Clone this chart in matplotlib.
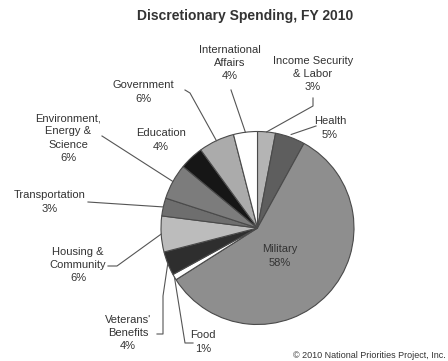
import numpy as np
import matplotlib
matplotlib.use("Agg")
import matplotlib.pyplot as plt
from matplotlib.lines import Line2D

plt.rcParams['font.family'] = ['Liberation Sans', 'DejaVu Sans']

# data, clockwise from 12 o'clock
labels = ["Income Security\n& Labor", "Health", "Military", "Food", "Veterans'\nBenefits",
          "Housing &\nCommunity", "Transportation", "Environment,\nEnergy &\nScience",
          "Education", "Government", "International\nAffairs"]
values = [3, 5, 58, 1, 4, 6, 3, 6, 4, 6, 4]
colors = ["#b4b4b4", "#5e5e5e", "#8e8e8e", "#ffffff", "#2e2e2e", "#bcbcbc",
          "#6e6e6e", "#7c7c7c", "#161616", "#ababab", "#ffffff"]

# label placement in pixels from top-left: text centre, leader points near the text
label_pos = {
    0: ((313, 74), [(313, 98), (313, 106)]),
    1: ((330, 128), [(316, 126)]),
    2: ((280, 256), None),
    3: ((203, 342), [(193, 343), (185, 343)]),
    4: ((128, 333), [(157, 334), (163, 334), (163, 296)]),
    5: ((78, 265), [(108, 266), (117, 266)]),
    6: ((50, 202), [(88, 202)]),
    7: ((68, 138), [(102, 136)]),
    8: ((161, 140), None),
    9: ((143, 92), [(185, 90), (190, 93)]),
    10: ((230, 63), [(231, 90)]),
}

W, H = 448, 361
fig = plt.figure(figsize=(W / 100, H / 100), dpi=100)
fig.patch.set_facecolor("white")

cx, cy, r = 257.5, 228, 96.5
half = r * 1.25
ax = fig.add_axes([(cx - half) / W, (H - cy - half) / H, 2 * half / W, 2 * half / H])
wedges, _ = ax.pie(values, colors=colors, startangle=90, counterclock=False,
                   wedgeprops=dict(edgecolor="#4a4a4a", linewidth=0.8))
ax.set_xlim(-1.25, 1.25)
ax.set_ylim(-1.25, 1.25)
ax.set_aspect("equal")


def px(x, y):
    # pixel (from top) to figure fraction
    return x / W, (H - y) / H


txt = dict(fontsize=8, color="#333333", ha="center", va="center", linespacing=1.4)

fig.text(*px(245, 16), "Discretionary Spending, FY 2010", fontsize=10,
         fontweight="bold", color="#333333", ha="center", va="center")

tot = sum(values)
for i, w in enumerate(wedges):
    (tx, ty), pts = label_pos[i]
    fig.text(*px(tx, ty), f"{labels[i]}\n{round(values[i] / tot * 100)}%", **txt)
    if pts is None:
        continue
    ang = np.deg2rad((w.theta1 + w.theta2) / 2)
    rr = 1.03 if i == 1 else 1.0
    disp = ax.transData.transform((rr * np.cos(ang), rr * np.sin(ang)))
    ex, ey = fig.transFigure.inverted().transform(disp)
    xs = [px(*p)[0] for p in pts] + [ex]
    ys = [px(*p)[1] for p in pts] + [ey]
    fig.add_artist(Line2D(xs, ys, transform=fig.transFigure, color="#555555",
                          linewidth=0.8))

fig.text(*px(446, 355), "\u00a9 2010 National Priorities Project, Inc.", fontsize=6.5,
         color="#333333", ha="right", va="center")

fig.savefig("out.png", dpi=100)
